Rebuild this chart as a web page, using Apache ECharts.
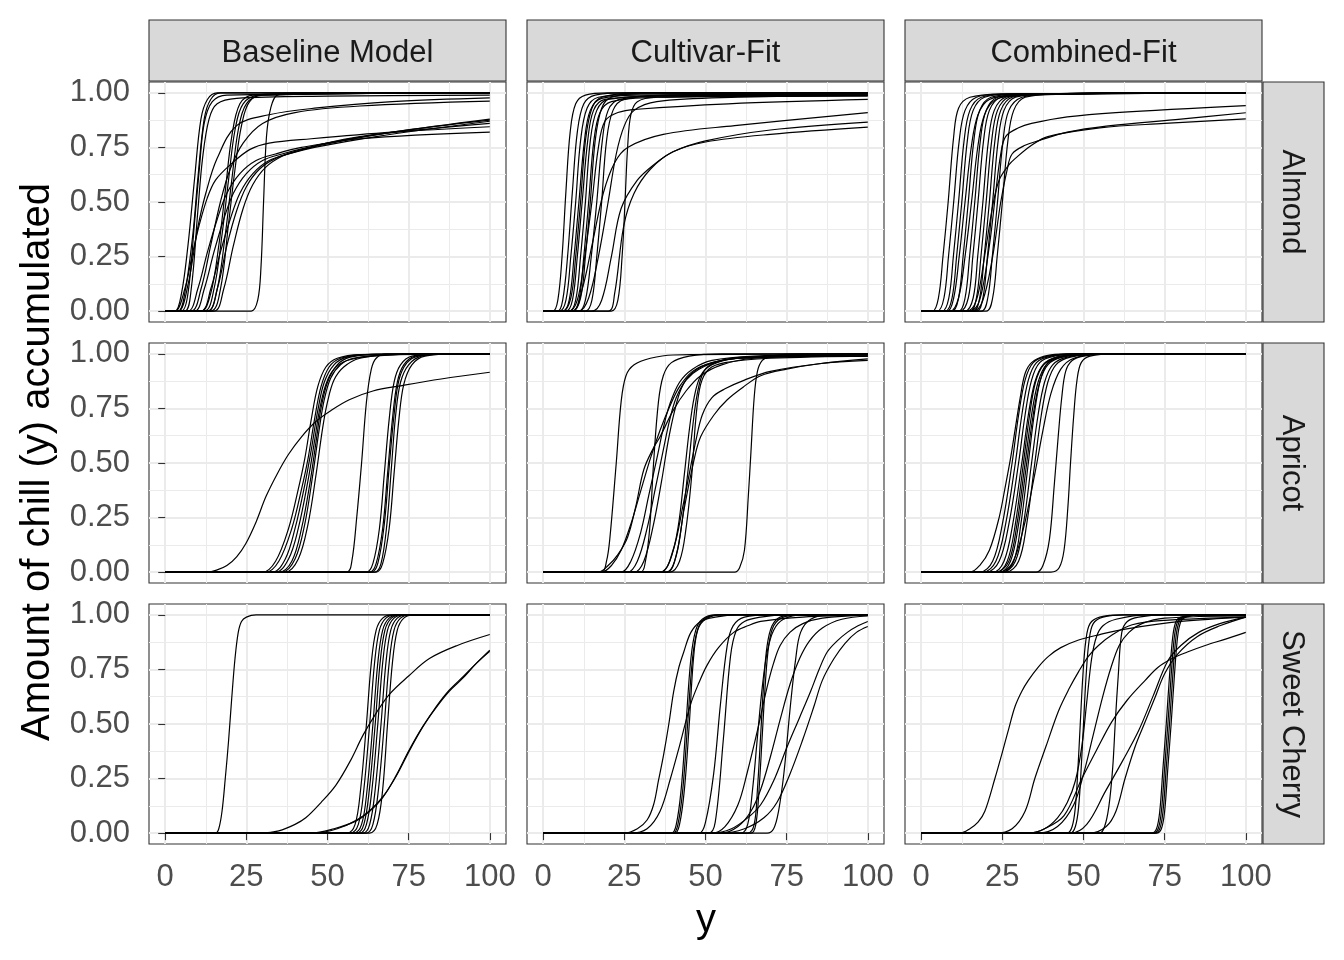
<!DOCTYPE html>
<html><head><meta charset="utf-8">
<script src="https://cdn.jsdelivr.net/npm/echarts@6/dist/echarts.min.js"></script>
<style>html,body{margin:0;padding:0;background:#fff}#c{width:1344px;height:960px}</style>
</head><body><div id="c"></div>
<script>
const columns = ['Baseline Model', 'Cultivar-Fit', 'Combined-Fit'];
const rows = ['Almond', 'Apricot', 'Sweet Cherry'];
const xTicks = [0, 25, 50, 75, 100];
const yTicks = [0, 0.25, 0.5, 0.75, 1];
const xMinor = [12.5, 37.5, 62.5, 87.5];
const yMinor = [0.125, 0.375, 0.625, 0.875];
const xTitle = 'y';
const yTitle = 'Amount of chill (y) accumulated';

const almondBaseline = [
[[0,0],[3,0],[5,0.08],[7,0.3],[9,0.6],[11,0.88],[13,0.97],[16,1],[100,1]],
[[0,0],[4,0],[6,0.08],[8.5,0.35],[10,0.6],[12,0.88],[14,0.97],[17,1],[100,1]],
[[0,0],[5,0],[7,0.08],[9,0.4],[10.5,0.65],[12,0.86],[14.5,0.96],[19,0.99],[100,1]],
[[0,0],[6,0],[8,0.1],[10,0.45],[11.5,0.7],[13.5,0.88],[16,0.95],[22,0.975],[50,0.985],[100,0.99]],
[[0,0],[11,0],[14,0.08],[16.5,0.3],[18.5,0.55],[20.5,0.8],[23,0.95],[27,0.99],[100,1]],
[[0,0],[12,0],[15,0.1],[17.5,0.35],[19.5,0.6],[21.5,0.83],[24,0.95],[29,0.99],[100,1]],
[[0,0],[13,0],[16,0.1],[18.5,0.35],[20.5,0.6],[22.5,0.83],[25,0.95],[30,0.99],[100,1]],
[[0,0],[14,0],[17,0.1],[19.5,0.4],[21.5,0.65],[23.5,0.85],[26,0.96],[31,0.995],[100,1]],
[[0,0],[26.5,0],[28.5,0.05],[29.5,0.2],[30.3,0.5],[31.2,0.8],[32.5,0.93],[34.5,0.99],[40,1],[100,1]],
[[0,0],[4,0],[7,0.12],[10,0.38],[12.5,0.54],[16,0.7],[22,0.85],[32,0.9],[46,0.93],[70,0.96],[100,0.977]],
[[0,0],[8,0],[11,0.1],[14,0.3],[17,0.5],[20,0.65],[24,0.77],[30,0.86],[40,0.91],[60,0.94],[100,0.962]],
[[0,0],[3,0],[6,0.1],[8.5,0.27],[10.4,0.39],[13,0.52],[15.5,0.6],[20,0.67],[26,0.74],[32,0.77],[45,0.79],[70,0.82],[100,0.845]],
[[0,0],[7,0],[10,0.1],[13,0.27],[16,0.42],[19,0.54],[23,0.63],[28,0.69],[34,0.72],[42,0.75],[60,0.79],[100,0.82]],
[[0,0],[9,0],[12,0.1],[15,0.27],[18,0.42],[21,0.54],[25,0.63],[30,0.69],[36,0.72],[44,0.75],[60,0.8],[100,0.86]],
[[0,0],[11,0],[14,0.1],[17,0.27],[20,0.42],[23,0.54],[27,0.63],[32,0.69],[38,0.72],[46,0.75],[65,0.8],[100,0.87]],
[[0,0],[13,0],[16,0.1],[19,0.3],[22,0.46],[25,0.57],[29,0.65],[34,0.7],[40,0.73],[48,0.76],[70,0.82],[100,0.875]],
[[0,0],[15,0],[18,0.1],[21,0.3],[24,0.47],[27,0.58],[31,0.66],[36,0.71],[42,0.74],[50,0.77],[70,0.82],[100,0.88]]
];

const almondCultivar = [
[[0,0],[3,0],[4.5,0.05],[5.8,0.25],[7,0.55],[8.3,0.82],[10,0.95],[13,0.99],[20,1],[100,1]],
[[0,0],[4.5,0],[6,0.05],[7.5,0.25],[9,0.55],[10.5,0.82],[12.5,0.95],[16,0.99],[25,1],[100,1]],
[[0,0],[5,0],[7,0.05],[8.5,0.25],[10,0.5],[11.5,0.78],[13.5,0.93],[17,0.98],[30,0.995],[100,1]],
[[0,0],[6,0],[8.5,0.06],[10,0.25],[11.5,0.5],[13,0.78],[15,0.93],[18,0.98],[30,1],[100,1]],
[[0,0],[6,0],[8,0.05],[9.5,0.25],[11,0.5],[12.7,0.78],[14.5,0.92],[18,0.975],[30,0.99],[100,0.995]],
[[0,0],[7,0],[9,0.05],[10.5,0.25],[12,0.5],[13.7,0.78],[15.5,0.92],[19,0.97],[35,0.985],[100,0.99]],
[[0,0],[8,0],[10,0.05],[11.5,0.25],[13,0.5],[14.5,0.78],[16.5,0.92],[20,0.97],[35,0.985],[100,0.995]],
[[0,0],[9,0],[11,0.05],[12.5,0.25],[14,0.5],[15.6,0.78],[17.5,0.91],[21,0.96],[35,0.98],[100,0.985]],
[[0,0],[9,0],[11.5,0.06],[13,0.25],[14.5,0.5],[16,0.78],[18,0.93],[21,0.98],[32,1],[100,1]],
[[0,0],[8,0],[10.5,0.05],[12.5,0.22],[15,0.5],[17,0.75],[19,0.87],[23,0.91],[29,0.925],[57,0.95],[100,0.97]],
[[0,0],[11,0],[13,0.05],[14.8,0.25],[16.5,0.5],[18.2,0.78],[20,0.92],[23.5,0.97],[40,0.99],[100,0.995]],
[[0,0],[13,0],[15,0.05],[16.5,0.25],[18,0.5],[19.5,0.78],[21.5,0.92],[25,0.97],[40,0.99],[100,1]],
[[0,0],[11,0],[14,0.06],[17,0.25],[20,0.5],[22.5,0.72],[25,0.85],[28,0.92],[35,0.96],[60,0.98],[100,0.99]],
[[0,0],[21,0],[23,0.05],[24.3,0.25],[25.2,0.5],[26,0.75],[27,0.9],[29,0.96],[35,0.98],[100,0.99]],
[[0,0],[9,0],[12,0.1],[15,0.3],[18.5,0.54],[22,0.68],[26,0.75],[37,0.81],[59,0.85],[100,0.91]],
[[0,0],[15,0],[18,0.05],[21,0.25],[24,0.47],[29,0.6],[34,0.67],[40,0.73],[50,0.78],[70,0.83],[100,0.866]],
[[0,0],[20,0],[22,0.08],[24.8,0.39],[28,0.54],[33,0.65],[40,0.73],[50,0.775],[70,0.81],[100,0.843]]
];

const almondCombined = [
[[0,0],[3.5,0],[5.3,0.06],[6.7,0.25],[8.3,0.5],[10,0.8],[11.5,0.93],[15,0.98],[25,0.995],[100,1]],
[[0,0],[5,0],[7,0.06],[8.4,0.25],[10,0.5],[11.7,0.78],[13.5,0.92],[17,0.98],[25,0.995],[100,1]],
[[0,0],[6.5,0],[8.5,0.06],[9.9,0.25],[11.5,0.5],[13.2,0.78],[15,0.92],[18.5,0.98],[27,0.995],[100,1]],
[[0,0],[7.5,0],[9.5,0.06],[10.9,0.25],[12.5,0.5],[14.2,0.78],[16,0.92],[19.5,0.98],[28,0.995],[100,1]],
[[0,0],[8,0],[10,0.06],[11.7,0.25],[13.5,0.5],[15.5,0.76],[17.5,0.9],[21,0.97],[30,0.99],[100,1]],
[[0,0],[9.5,0],[11.5,0.06],[12.9,0.25],[14.5,0.5],[16.2,0.78],[18,0.92],[21.5,0.98],[30,0.995],[100,1]],
[[0,0],[9,0],[11.5,0.06],[13.5,0.25],[15.5,0.5],[17.5,0.76],[19.5,0.9],[23,0.97],[32,0.99],[100,1]],
[[0,0],[11.5,0],[13.5,0.06],[14.9,0.25],[16.5,0.5],[18.2,0.78],[20,0.92],[23.5,0.98],[32,0.995],[100,1]],
[[0,0],[12,0],[14.5,0.06],[15.9,0.25],[17.5,0.5],[19.2,0.78],[21,0.92],[24.5,0.98],[33,0.995],[100,1]],
[[0,0],[13.5,0],[16,0.06],[17.4,0.25],[19,0.5],[20.7,0.78],[22.5,0.92],[26,0.98],[35,0.995],[100,1]],
[[0,0],[15,0],[17,0.06],[18.4,0.25],[20,0.5],[21.7,0.78],[23.5,0.92],[27,0.98],[36,0.995],[100,1]],
[[0,0],[16,0],[18,0.06],[19.4,0.25],[21,0.5],[22.7,0.78],[24.5,0.92],[28,0.98],[37,0.995],[100,1]],
[[0,0],[17,0],[19,0.06],[20.4,0.25],[22,0.5],[23.7,0.78],[25.5,0.92],[29,0.98],[38,0.995],[100,1]],
[[0,0],[18.5,0],[20.5,0.06],[21.9,0.25],[23.5,0.5],[25.2,0.78],[27,0.92],[31,0.98],[40,0.995],[100,1]],
[[0,0],[20,0],[22,0.06],[23.4,0.25],[25,0.5],[26.7,0.78],[28.5,0.92],[32,0.98],[42,0.995],[100,1]],
[[0,0],[15,0],[18,0.05],[21,0.3],[23,0.55],[24.5,0.72],[26,0.8],[30,0.84],[34,0.86],[45,0.89],[60,0.91],[100,0.942]],
[[0,0],[16,0],[19,0.05],[22,0.25],[24.5,0.5],[26.5,0.65],[28,0.72],[32,0.76],[36,0.78],[45,0.82],[57,0.848],[80,0.88],[100,0.909]],
[[0,0],[14,0],[17,0.05],[19.5,0.25],[22,0.48],[24,0.6],[27,0.67],[29,0.7],[34,0.76],[39,0.8],[55,0.84],[75,0.86],[100,0.881]]
];

const apricotBaseline = [
[[0,0],[13,0],[16,0.01],[19,0.03],[22,0.07],[24.8,0.13],[28,0.23],[31,0.345],[34.5,0.45],[38,0.54],[42,0.62],[46.4,0.69],[51,0.74],[56.7,0.79],[64,0.83],[73,0.855],[85,0.885],[100,0.916]],
[[0,0],[30,0],[34,0.05],[38,0.2],[41,0.38],[43,0.52],[45,0.7],[47,0.85],[49.5,0.94],[53,0.98],[60,0.997],[100,1]],
[[0,0],[31,0],[35,0.05],[39,0.2],[42,0.38],[44,0.52],[46,0.7],[48,0.85],[50.5,0.94],[54,0.98],[62,0.997],[100,1]],
[[0,0],[33,0],[37,0.06],[40,0.2],[43,0.4],[45,0.56],[47,0.74],[49,0.87],[52,0.95],[56,0.985],[64,0.998],[100,1]],
[[0,0],[34,0],[38,0.06],[41,0.2],[44,0.42],[46,0.6],[47.5,0.74],[49.5,0.86],[52,0.93],[56,0.97],[64,0.99],[80,1],[100,1]],
[[0,0],[35,0],[39,0.05],[42,0.2],[44.5,0.4],[46.5,0.6],[48,0.75],[50,0.87],[53,0.95],[57,0.985],[65,0.998],[100,1]],
[[0,0],[36,0],[40,0.06],[43,0.22],[45.5,0.45],[47.5,0.66],[49,0.79],[51,0.89],[54,0.95],[58,0.98],[68,0.995],[100,1]],
[[0,0],[37,0],[41,0.06],[44,0.22],[46.5,0.45],[48.5,0.66],[50,0.78],[52,0.88],[55,0.94],[60,0.98],[70,0.997],[100,1]],
[[0,0],[56,0],[57.5,0.05],[59,0.25],[60.5,0.5],[62,0.78],[63.5,0.93],[65,0.98],[68,1],[100,1]],
[[0,0],[62,0],[64,0.04],[66,0.2],[67.5,0.45],[69,0.7],[70.5,0.87],[72.5,0.95],[76,0.99],[85,1],[100,1]],
[[0,0],[63,0],[65,0.04],[67,0.2],[68.5,0.45],[70,0.7],[71.5,0.87],[73.5,0.95],[77,0.99],[86,1],[100,1]],
[[0,0],[63.5,0],[65.5,0.04],[67.5,0.22],[69,0.48],[70.5,0.72],[72,0.88],[74.5,0.96],[78,0.99],[87,1],[100,1]],
[[0,0],[64.5,0],[66.5,0.04],[68.3,0.22],[69.7,0.48],[71,0.72],[72.5,0.87],[75,0.95],[79,0.99],[88,1],[100,1]],
[[0,0],[65,0],[67,0.04],[69,0.2],[70.5,0.45],[72,0.7],[73.5,0.86],[76,0.95],[80,0.99],[90,1],[100,1]]
];

const apricotCultivar = [
[[0,0],[18,0],[19.5,0.05],[20.5,0.15],[22.5,0.5],[24,0.78],[25.5,0.9],[28,0.95],[33,0.98],[40,0.995],[100,1]],
[[0,0],[30,0],[31.5,0.05],[32.8,0.2],[34,0.5],[35.5,0.78],[37,0.9],[39.5,0.96],[45,0.99],[55,1],[100,1]],
[[0,0],[17,0],[20,0.03],[23,0.08],[26,0.16],[28.5,0.3],[31,0.47],[34,0.57],[36,0.62],[40,0.74],[44,0.83],[48.5,0.9],[55,0.95],[65,0.98],[100,1]],
[[0,0],[18,0],[21,0.03],[24,0.1],[27,0.22],[30,0.37],[33,0.52],[36,0.65],[39,0.76],[42,0.85],[46,0.92],[52,0.96],[60,0.98],[100,0.995]],
[[0,0],[24,0],[27,0.05],[30,0.18],[32.5,0.35],[35,0.52],[37,0.66],[39,0.77],[42,0.87],[46,0.93],[52,0.97],[65,0.99],[100,1]],
[[0,0],[26,0],[29,0.05],[32,0.2],[34.5,0.38],[37,0.56],[39,0.7],[41,0.8],[44,0.88],[48,0.93],[55,0.97],[70,0.99],[100,1]],
[[0,0],[28,0],[31,0.05],[34,0.22],[36.5,0.42],[38.5,0.6],[40.5,0.74],[42.5,0.84],[45,0.9],[50,0.95],[60,0.98],[100,0.995]],
[[0,0],[36,0],[39,0.05],[41.5,0.2],[43.5,0.45],[45,0.65],[46.5,0.8],[48.5,0.9],[52,0.95],[60,0.98],[100,0.99]],
[[0,0],[38,0],[40.5,0.05],[42.5,0.2],[44.5,0.45],[46,0.66],[47.5,0.82],[49.5,0.92],[53,0.96],[62,0.985],[100,0.99]],
[[0,0],[39,0],[42,0.05],[44,0.2],[45.8,0.45],[47,0.7],[48.5,0.86],[51,0.93],[56,0.96],[70,0.98],[100,0.99]],
[[0,0],[38,0],[41,0.08],[43.3,0.28],[46.4,0.51],[48.5,0.62],[52.6,0.72],[56.7,0.79],[61.8,0.85],[67,0.9],[75,0.93],[85,0.955],[100,0.977]],
[[0,0],[36,0],[40,0.1],[43,0.3],[45,0.45],[47,0.6],[49,0.72],[52,0.8],[56,0.84],[62,0.88],[70,0.92],[85,0.955],[100,0.97]],
[[0,0],[59,0],[60.5,0.02],[62,0.1],[63.2,0.35],[64,0.55],[65,0.8],[66,0.92],[67.5,0.97],[70,0.99],[80,1],[100,1]]
];

const apricotCombined = [
[[0,0],[15,0],[18,0.03],[21,0.1],[24,0.25],[26,0.4],[27.5,0.52],[29,0.66],[30.5,0.8],[32,0.91],[34,0.96],[38,0.99],[45,1],[100,1]],
[[0,0],[18,0],[22,0.05],[25,0.22],[28,0.5],[30,0.72],[32,0.88],[34.5,0.96],[39,0.99],[48,1],[100,1]],
[[0,0],[19,0],[23,0.05],[26,0.22],[29,0.5],[31,0.72],[33,0.88],[35.5,0.96],[40,0.99],[49,1],[100,1]],
[[0,0],[20,0],[24,0.05],[27,0.22],[30,0.5],[32,0.72],[34,0.88],[36.5,0.96],[41,0.99],[50,1],[100,1]],
[[0,0],[22,0],[25.5,0.05],[28.2,0.22],[31,0.5],[33,0.72],[35,0.87],[37.5,0.95],[42,0.985],[52,1],[100,1]],
[[0,0],[23,0],[26.5,0.05],[29,0.22],[31.5,0.5],[33.4,0.72],[35.2,0.87],[37.7,0.95],[42,0.985],[52,1],[100,1]],
[[0,0],[23,0],[27,0.05],[29.5,0.22],[32,0.5],[34,0.72],[36,0.87],[38.5,0.95],[43,0.985],[53,1],[100,1]],
[[0,0],[24,0],[27.5,0.05],[30,0.22],[32.5,0.5],[34.5,0.72],[36.5,0.87],[39,0.95],[43.5,0.985],[54,1],[100,1]],
[[0,0],[25,0],[28.5,0.05],[30.7,0.22],[33,0.5],[34.8,0.72],[36.7,0.88],[39,0.96],[43,0.99],[54,1],[100,1]],
[[0,0],[25,0],[29,0.05],[31.5,0.22],[34,0.5],[36,0.72],[38,0.87],[40.5,0.95],[45,0.985],[55,1],[100,1]],
[[0,0],[26,0],[30,0.05],[32.5,0.22],[35,0.5],[37,0.72],[39,0.87],[41.5,0.95],[46,0.985],[56,1],[100,1]],
[[0,0],[24,0],[28,0.04],[31.5,0.2],[35,0.45],[37.5,0.65],[40,0.82],[43,0.93],[47,0.98],[56,1],[100,1]],
[[0,0],[35.5,0],[37.5,0.03],[39.5,0.15],[41,0.4],[42.2,0.62],[43.3,0.8],[44.5,0.92],[46.5,0.97],[50,0.99],[58,1],[100,1]],
[[0,0],[40,0],[42.5,0.02],[44,0.1],[45.2,0.3],[46,0.5],[47,0.72],[48,0.88],[49.3,0.96],[52,0.99],[60,1],[100,1]]
];

const cherryBaseline = [
[[0,0],[15.5,0],[16.5,0.02],[17.5,0.1],[18.5,0.25],[19.5,0.42],[20.5,0.62],[21.5,0.8],[22.5,0.92],[23.5,0.97],[25,0.99],[28,1],[100,1]],
[[0,0],[56,0],[58.5,0.04],[60.2,0.2],[62,0.5],[63.5,0.78],[65,0.93],[67,0.985],[70,1],[100,1]],
[[0,0],[57,0],[59.5,0.04],[61.2,0.2],[63,0.5],[64.5,0.78],[66,0.93],[68,0.985],[71,1],[100,1]],
[[0,0],[58,0],[60.5,0.04],[62.2,0.2],[64,0.5],[65.5,0.78],[67,0.93],[69,0.985],[72,1],[100,1]],
[[0,0],[59,0],[61.2,0.04],[62.9,0.2],[64.7,0.5],[66.2,0.78],[67.7,0.93],[69.7,0.985],[72.7,1],[100,1]],
[[0,0],[60,0],[62,0.04],[63.7,0.2],[65.5,0.5],[67,0.78],[68.5,0.93],[70.5,0.985],[73.5,1],[100,1]],
[[0,0],[61,0],[63,0.04],[64.7,0.2],[66.5,0.5],[68,0.78],[69.5,0.93],[71.5,0.985],[74.5,1],[100,1]],
[[0,0],[62,0],[64,0.04],[65.7,0.2],[67.5,0.5],[69,0.78],[70.5,0.93],[72.5,0.985],[75.5,1],[100,1]],
[[0,0],[63,0],[65.3,0.04],[67,0.2],[68.5,0.5],[70,0.78],[71.5,0.93],[73.5,0.985],[76.5,1],[100,1]],
[[0,0],[30,0],[35,0.01],[40,0.04],[43.3,0.07],[48,0.14],[52.6,0.22],[57,0.33],[61,0.45],[65,0.55],[69,0.635],[75,0.72],[81.4,0.8],[90,0.86],[100,0.91]],
[[0,0],[45,0],[52,0.02],[58.7,0.055],[63,0.1],[67,0.163],[71,0.26],[75,0.376],[79,0.48],[83.4,0.574],[87.5,0.65],[91.7,0.71],[96,0.78],[100,0.833]],
[[0,0],[46,0],[53,0.02],[59,0.06],[63.5,0.11],[67.5,0.175],[71.5,0.27],[75.5,0.385],[79.5,0.49],[83.5,0.58],[87.5,0.655],[92,0.72],[96,0.78],[100,0.838]]
];

const cherryCultivar = [
[[0,0],[25,0],[29,0.02],[32,0.06],[34,0.13],[35.5,0.24],[37.1,0.36],[38.7,0.5],[40.2,0.65],[41.8,0.76],[43.3,0.83],[45.5,0.92],[48.5,0.97],[53,0.99],[60,1],[100,1]],
[[0,0],[27,0],[32,0.02],[36,0.1],[39.2,0.25],[42,0.4],[45.4,0.59],[48,0.69],[50.5,0.77],[54,0.85],[58.7,0.92],[63,0.95],[67,0.97],[80,0.99],[100,1]],
[[0,0],[39.5,0],[41,0.04],[42.5,0.2],[44,0.5],[45.5,0.8],[47,0.93],[49,0.98],[53,1],[100,1]],
[[0,0],[40,0],[41.5,0.04],[43,0.2],[44.5,0.5],[46,0.8],[47.5,0.93],[49.5,0.98],[54,1],[100,1]],
[[0,0],[40.5,0],[42,0.04],[43.5,0.2],[45,0.5],[46.3,0.8],[47.6,0.93],[50,0.98],[55,1],[100,1]],
[[0,0],[48,0],[50,0.05],[52.5,0.27],[54.6,0.59],[56.7,0.86],[58.5,0.95],[62,0.99],[70,1],[100,1]],
[[0,0],[51,0],[53,0.05],[55.5,0.43],[57.7,0.81],[59.5,0.93],[62,0.97],[67,0.99],[75,1],[100,1]],
[[0,0],[61,0],[63,0.04],[64.5,0.2],[66,0.44],[67.5,0.67],[69,0.83],[71,0.93],[74,0.98],[80,1],[100,1]],
[[0,0],[63,0],[65,0.04],[66,0.2],[67,0.45],[68,0.7],[69,0.86],[70.5,0.95],[73,0.99],[78,1],[100,1]],
[[0,0],[64,0],[65.5,0.04],[66.5,0.2],[67.5,0.45],[68.5,0.7],[69.5,0.86],[71,0.95],[74,0.99],[80,1],[100,1]],
[[0,0],[52,0],[56,0.03],[60,0.13],[62.9,0.28],[66,0.47],[69,0.67],[71,0.78],[73,0.86],[76,0.92],[80,0.96],[86,0.985],[100,1]],
[[0,0],[55,0],[60,0.03],[64,0.1],[67,0.2],[70,0.35],[73,0.52],[76,0.68],[79,0.8],[82,0.88],[86,0.94],[92,0.98],[100,0.995]],
[[0,0],[69,0],[71,0.02],[72.5,0.1],[74.2,0.28],[76.2,0.59],[77.8,0.8],[79.3,0.92],[82.4,0.98],[88,1],[100,1]],
[[0,0],[52,0],[58,0.02],[63,0.07],[67,0.13],[71,0.24],[75,0.39],[79,0.53],[82.4,0.65],[85,0.75],[87.5,0.83],[90.5,0.88],[93.7,0.92],[97,0.95],[100,0.97]],
[[0,0],[55,0],[62,0.02],[68,0.07],[72,0.14],[76,0.27],[80,0.43],[83.4,0.58],[86,0.7],[89.6,0.8],[93,0.87],[96.5,0.92],[100,0.947]]
];

const cherryCombined = [
[[0,0],[12,0],[15,0.02],[17.5,0.05],[19.6,0.1],[22.7,0.25],[24.8,0.36],[27,0.48],[28.9,0.58],[31,0.65],[33,0.7],[36,0.76],[39.2,0.81],[43,0.85],[48.5,0.885],[55,0.91],[62.9,0.935],[80,0.97],[100,0.99]],
[[0,0],[23,0],[28,0.02],[32,0.1],[35,0.25],[38.5,0.4],[42.3,0.56],[45.5,0.66],[48.5,0.74],[51.5,0.81],[54.6,0.86],[59,0.91],[65,0.955],[75,0.975],[100,0.99]],
[[0,0],[45,0],[46.5,0.03],[47.5,0.12],[48.3,0.3],[49,0.5],[49.8,0.72],[50.7,0.88],[52,0.96],[55,0.99],[62,1],[100,1]],
[[0,0],[46,0],[47.5,0.03],[48.5,0.12],[49.3,0.3],[50,0.5],[50.8,0.72],[51.7,0.88],[53,0.96],[56,0.99],[63,1],[100,1]],
[[0,0],[33,0],[38,0.02],[42,0.07],[45,0.14],[47.5,0.24],[49.5,0.4],[51,0.6],[52.5,0.8],[54,0.9],[56,0.95],[60,0.98],[70,1],[100,1]],
[[0,0],[36,0],[42,0.03],[47,0.13],[50,0.27],[53,0.45],[56,0.63],[58.5,0.76],[61,0.86],[64,0.92],[68,0.96],[75,0.985],[100,0.995]],
[[0,0],[55,0],[56.5,0.03],[57.8,0.12],[59,0.3],[59.8,0.51],[60.7,0.72],[61.8,0.92],[63.5,0.97],[67,0.99],[75,1],[100,1]],
[[0,0],[46,0],[51,0.04],[56.7,0.19],[62,0.33],[67,0.47],[71.5,0.63],[76,0.79],[80,0.86],[85.5,0.92],[92,0.96],[100,0.99]],
[[0,0],[33,0],[38,0.02],[44,0.08],[49.5,0.25],[54,0.38],[58.7,0.51],[63.5,0.61],[69,0.7],[73,0.76],[77.3,0.8],[82,0.83],[87.5,0.86],[94,0.89],[100,0.92]],
[[0,0],[52,0],[57,0.03],[60,0.1],[62.8,0.25],[66,0.4],[69,0.51],[72,0.62],[75,0.73],[79,0.82],[85,0.9],[92,0.95],[100,0.99]],
[[0,0],[71,0],[72.5,0.02],[73.5,0.1],[74.5,0.3],[75.5,0.5],[76.5,0.72],[77.5,0.9],[78.5,0.97],[80,0.99],[85,1],[100,1]],
[[0,0],[71.5,0],[73,0.02],[74,0.1],[75,0.3],[76,0.5],[77,0.72],[78,0.9],[79,0.97],[80.5,0.99],[85.5,1],[100,1]],
[[0,0],[72,0],[73.5,0.02],[74.5,0.1],[75.5,0.3],[76.5,0.5],[77.5,0.72],[78.5,0.9],[79.5,0.97],[81,0.99],[86,1],[100,1]],
[[0,0],[72.5,0],[74,0.02],[75,0.1],[76,0.3],[77,0.5],[78,0.72],[79,0.9],[80,0.97],[81.5,0.99],[86.5,1],[100,1]]
];

const panelData = [
  [almondBaseline, almondCultivar, almondCombined],
  [apricotBaseline, apricotCultivar, apricotCombined],
  [cherryBaseline, cherryCultivar, cherryCombined]
];

// ---- layout / style ----
const FONT = '"Liberation Sans", Arial, sans-serif';
const colLeft = [149, 527, 905], rowTop = [82, 343, 604], W = 357, H = 240;
const grid = [], xAxis = [], yAxis = [], series = [], graphic = [];
const majorLine = {show: true, lineStyle: {color: '#EBEBEB', width: 2}};
const minorLine = {show: true, lineStyle: {color: '#EBEBEB', width: 1}};

rows.forEach((rn, r) => {
  columns.forEach((cn, c) => {
    const g = grid.length;
    const bottom = r === 2, left = c === 0;
    grid.push({left: colLeft[c], top: rowTop[r], width: W, height: H, show: true,
      backgroundColor: '#fff', borderColor: '#333', borderWidth: 1.1});
    xAxis.push({gridIndex: g, type: 'value', min: -5, max: 105, position: 'bottom',
      axisLine: {show: false},
      axisTick: {show: bottom, customValues: xTicks, length: 7, lineStyle: {color: '#333', width: 1.1}},
      axisLabel: {show: bottom, customValues: xTicks, margin: 18, color: '#4D4D4D', fontSize: 31, fontFamily: FONT},
      splitLine: majorLine});
    xAxis.push({gridIndex: g, type: 'value', min: -5, max: 105, position: 'top',
      axisLine: {show: false}, axisTick: {show: false, customValues: xMinor},
      axisLabel: {show: false, customValues: xMinor}, splitLine: minorLine});
    yAxis.push({gridIndex: g, type: 'value', min: -0.05, max: 1.05, position: 'left',
      axisLine: {show: false},
      axisTick: {show: left, customValues: yTicks, length: 7, lineStyle: {color: '#333', width: 1.1}},
      axisLabel: {show: left, customValues: yTicks, margin: 19, color: '#4D4D4D', fontSize: 31, fontFamily: FONT,
        padding: [4, 0, 0, 0], formatter: v => Number(v).toFixed(2)},
      splitLine: majorLine});
    yAxis.push({gridIndex: g, type: 'value', min: -0.05, max: 1.05, position: 'right',
      axisLine: {show: false}, axisTick: {show: false, customValues: yMinor},
      axisLabel: {show: false, customValues: yMinor}, splitLine: minorLine});
    panelData[r][c].forEach(curve => {
      series.push({type: 'line', xAxisIndex: 2 * g, yAxisIndex: 2 * g, data: curve,
        symbol: 'none', showSymbol: false, smooth: 0.35, silent: true, animation: false,
        lineStyle: {color: '#000', width: 1.2}, z: 3});
    });
  });
});

columns.forEach((t, c) => {
  graphic.push({type: 'rect', shape: {x: colLeft[c], y: 20, width: W, height: 61},
    style: {fill: '#D9D9D9', stroke: '#333', lineWidth: 1.1}, silent: true});
  graphic.push({type: 'text', x: colLeft[c] + W / 2, y: 53, silent: true,
    style: {text: t, fill: '#1A1A1A', fontSize: 31, fontFamily: FONT, align: 'center', verticalAlign: 'middle',
      textAlign: 'center', textVerticalAlign: 'middle'}});
});
rows.forEach((t, r) => {
  graphic.push({type: 'rect', shape: {x: 1263, y: rowTop[r], width: 61, height: H},
    style: {fill: '#D9D9D9', stroke: '#333', lineWidth: 1.1}, silent: true});
  graphic.push({type: 'text', x: 1292, y: rowTop[r] + H / 2, rotation: -Math.PI / 2, silent: true,
    style: {text: t, fill: '#1A1A1A', fontSize: 31, fontFamily: FONT, align: 'center', verticalAlign: 'middle',
      textAlign: 'center', textVerticalAlign: 'middle'}});
});
graphic.push({type: 'text', x: 38, y: 462, rotation: Math.PI / 2, silent: true,
  style: {text: yTitle, fill: '#000', fontSize: 40, fontFamily: FONT, align: 'center', verticalAlign: 'middle',
    textAlign: 'center', textVerticalAlign: 'middle'}});
graphic.push({type: 'text', x: 706, y: 921, silent: true,
  style: {text: xTitle, fill: '#000', fontSize: 40, fontFamily: FONT, align: 'center', verticalAlign: 'middle',
    textAlign: 'center', textVerticalAlign: 'middle'}});

const chart = echarts.init(document.getElementById('c'), null, {renderer: 'canvas'});
chart.setOption({animation: false, backgroundColor: '#fff', grid, xAxis, yAxis, series, graphic});
</script>
</body></html>
